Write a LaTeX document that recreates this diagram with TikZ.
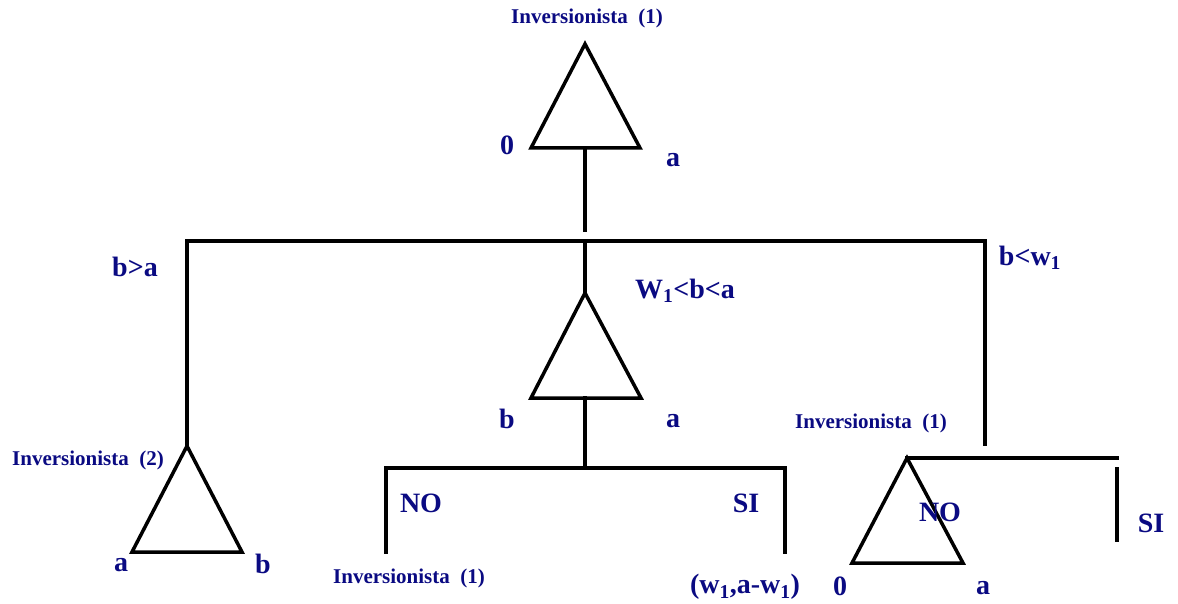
\documentclass[tikz,border=0pt]{standalone}
\usepackage{fontspec}
\setmainfont{Liberation Serif}
\definecolor{lbl}{RGB}{10,10,130}
\begin{document}
\begin{tikzpicture}[x=1pt,y=-1pt,
  ln/.style={line width=3.5pt,line join=miter,line cap=rect},
  big/.style={text=lbl,font=\fontsize{28}{30}\selectfont\bfseries,inner sep=0pt},
  small/.style={text=lbl,font=\fontsize{21}{23}\selectfont\bfseries,inner sep=0pt}]
\useasboundingbox (0,0) rectangle (1178,604);
% coordinates
\coordinate (t1) at (585,44);
\coordinate (t1l) at (531,148);
\coordinate (t1r) at (640,148);
\coordinate (t1b) at (585,148);
\coordinate (s1) at (585,230);
\coordinate (hl) at (187,241);
\coordinate (hm) at (585,241);
\coordinate (hr) at (985,241);
\coordinate (t2) at (585,293);
\coordinate (t2l) at (531,398);
\coordinate (t2r) at (641,398);
\coordinate (t2b) at (585,398);
\coordinate (s2) at (585,468);
\coordinate (h2l) at (386,468);
\coordinate (h2r) at (785,468);
\coordinate (v2l) at (386,552);
\coordinate (v2r) at (785,552);
\coordinate (t3) at (187,446);
\coordinate (t3l) at (132,552);
\coordinate (t3r) at (242,552);
\coordinate (vr) at (985,444);
\coordinate (t4) at (907,458);
\coordinate (t4l) at (852,563);
\coordinate (t4r) at (963,563);
\coordinate (h4r) at (1117,458);
\coordinate (si1) at (1117,469);
\coordinate (si2) at (1117,540);
% lines
\draw[ln] (t1) -- (t1l) -- (t1r) -- cycle;
\draw[ln] (t1b) -- (s1);
\draw[ln] (t3) -- (hl) -- (hr) -- (vr);
\draw[ln] (hm) -- (t2);
\draw[ln] (t2) -- (t2l) -- (t2r) -- cycle;
\draw[ln] (t2b) -- (s2);
\draw[ln] (v2l) -- (h2l) -- (h2r) -- (v2r);
\draw[ln] (t3) -- (t3l) -- (t3r) -- cycle;
\draw[ln] (t4) -- (t4l) -- (t4r) -- cycle;
\draw[ln] (t4) -- (h4r);
\draw[ln] (si1) -- (si2);
% labels
\node[small] (inv1) at (587,18) {Inversionista\ \ (1)};
\node[big] (z1) at (507,145) {0};
\node[big] (a1) at (673,160) {a};
\node[big] (bga) at (135,267) {b>a};
\node[big] (wba) at (685,291) {W\textsubscript{1}<b<a};
\node[big] (blw) at (1030,258) {b<w\textsubscript{1}};
\node[big] (b2) at (507,419) {b};
\node[big] (a2) at (673,421) {a};
\node[small] (inv3) at (871,423) {Inversionista\ \ (1)};
\node[small] (inv2) at (88,460) {Inversionista\ \ (2)};
\node[big] (a3) at (121,565) {a};
\node[big] (b3) at (263,564) {b};
\node[big] (no1) at (421,503) {NO};
\node[big] (si1l) at (746,503) {SI};
\node[small] (inv4) at (409,578) {Inversionista\ \ (1)};
\node[big] (pay) at (745,587) {(w\textsubscript{1},a-w\textsubscript{1})};
\node[big] (no2) at (940,512) {NO};
\node[big] (si2l) at (1151,523) {SI};
\node[big] (z4) at (840,586) {0};
\node[big] (a4) at (983,588) {a};
\end{tikzpicture}
\end{document}
